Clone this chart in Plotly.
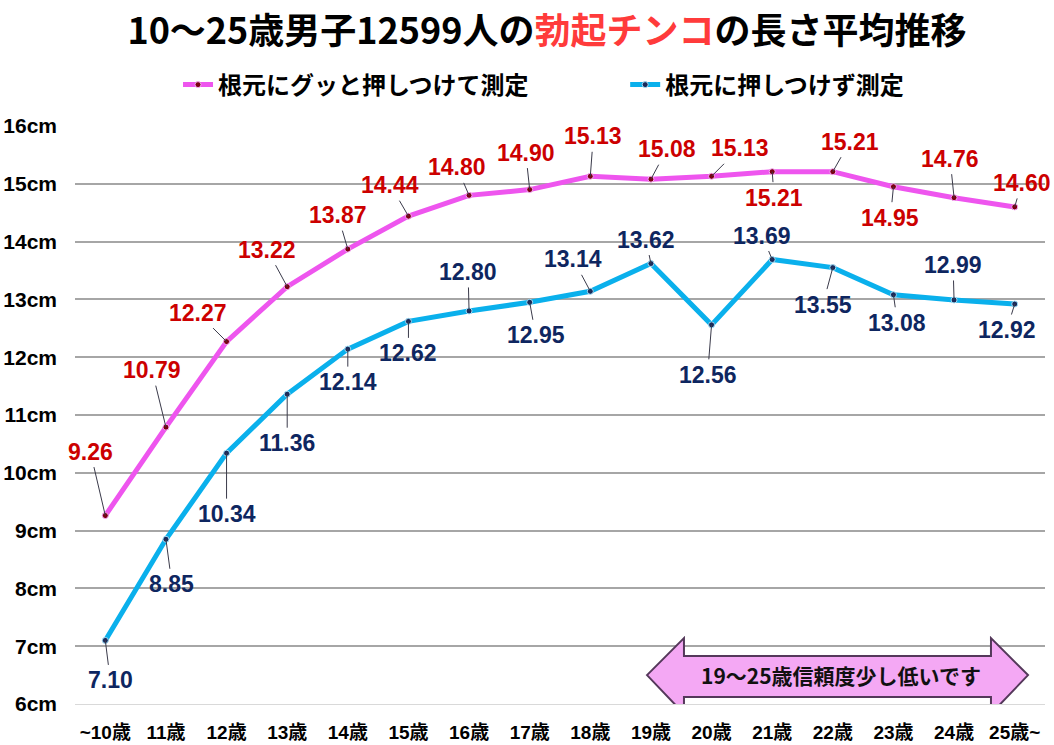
import plotly.graph_objects as go

# ---------------- data ----------------
categories = ["~10歳", "11歳", "12歳", "13歳", "14歳", "15歳", "16歳", "17歳",
              "18歳", "19歳", "20歳", "21歳", "22歳", "23歳", "24歳", "25歳~"]
pressed = [9.26, 10.79, 12.27, 13.22, 13.87, 14.44, 14.80, 14.90,
           15.13, 15.08, 15.13, 15.21, 15.21, 14.95, 14.76, 14.60]
not_pressed = [7.10, 8.85, 10.34, 11.36, 12.14, 12.62, 12.80, 12.95,
               13.14, 13.62, 12.56, 13.69, 13.55, 13.08, 12.99, 12.92]
y_tick_values = [6, 7, 8, 9, 10, 11, 12, 13, 14, 15, 16]
y_tick_labels = [f"{v}cm" for v in y_tick_values]
series_names = ["根元にグッと押しつけて測定", "根元に押しつけず測定"]
title_black_1 = "10～25歳男子12599人の"
title_red = "勃起チンコ"
title_black_2 = "の長さ平均推移"
note_text = "19～25歳信頼度少し低いです"

# label offsets (pixels, text centre relative to point)
pressed_offsets = [(-15, -64), (-14, -57), (-29, -29), (-20, -37), (-10, -34), (-18, -31),
                   (-12, -28), (-4, -37), (3, -40), (16, -30), (28, -28), (2, 26),
                   (17, -30), (-3, 31), (-4, -39), (7, -24)]
not_pressed_offsets = [(5, 40), (6, 45), (0, 61), (0, 49), (0, 33), (0, 32),
                       (-1, -39), (6, 33), (-17, -32), (-5, -24), (-4, 50), (-10, -24),
                       (-10, 37), (4, 28), (-1, -35), (-8, 26)]

# ---------------- styles ----------------
W, H = 1054, 745
PINK = "#EE55EE"
BLUE = "#0AB0EC"
RED_LABEL = "#CC0000"
NAVY_LABEL = "#0E2660"
CJK = "Noto Sans CJK JP"
LAT = "Liberation Sans, Arial, Noto Sans CJK JP"

fig = go.Figure()
fig.add_trace(go.Scatter(
    x=categories, y=pressed, name=series_names[0], mode="lines+markers",
    line=dict(color=PINK, width=5),
    marker=dict(size=6, color="#7A0010", line=dict(color="#F7A8F7", width=1)),
    legend="legend", cliponaxis=False,
))
fig.add_trace(go.Scatter(
    x=categories, y=not_pressed, name=series_names[1], mode="lines+markers",
    line=dict(color=BLUE, width=5),
    marker=dict(size=6, color="#1A2A5A", line=dict(color="#9EDDF7", width=1)),
    legend="legend2", cliponaxis=False,
))

annotations = []
for vals, offs, col in [(pressed, pressed_offsets, RED_LABEL),
                        (not_pressed, not_pressed_offsets, NAVY_LABEL)]:
    for cat, v, (dx, dy) in zip(categories, vals, offs):
        annotations.append(dict(
            x=cat, y=v, xref="x", yref="y", text=f"{v:.2f}",
            showarrow=True, ax=dx, ay=dy, axref="pixel", ayref="pixel",
            arrowhead=0, arrowwidth=1, arrowcolor="#3A3A4A", standoff=0,
            borderpad=2,
            font=dict(family=LAT, size=23, color=col, weight="bold"),
        ))

# double-headed note arrow (paper x, data y)
xl_tip, xl_base, xr_base, xr_tip = 0.5897, 0.6278, 0.9443, 0.9825
y_mid, y_head_top, y_shaft_top, y_shaft_bot, y_head_bot = 6.50, 7.14, 6.83, 6.12, 5.83
path = (f"M{xl_tip},{y_mid} L{xl_base},{y_head_top} L{xl_base},{y_shaft_top} "
        f"L{xr_base},{y_shaft_top} L{xr_base},{y_head_top} L{xr_tip},{y_mid} "
        f"L{xr_base},{y_head_bot} L{xr_base},{y_shaft_bot} L{xl_base},{y_shaft_bot} "
        f"L{xl_base},{y_head_bot} Z")
shapes = [dict(type="path", xref="paper", yref="y", path=path,
               fillcolor="#F4A8F4", line=dict(color="#54385A", width=2), layer="above")]

# note arrow text
annotations.append(dict(
    x=0.7897, y=6.50, xref="paper", yref="y", text=note_text, showarrow=False,
    xanchor="center", yanchor="middle",
    font=dict(family=CJK, size=21, color="#111111", weight="bold"),
))

title_html = (f"{title_black_1}<span style='color:#FF3B3B'>{title_red}</span>{title_black_2}")

legend_font = dict(family=CJK, size=24, color="#000000", weight="bold")
fig.update_layout(
    width=W, height=H,
    margin=dict(l=75, r=9, t=126, b=41),
    paper_bgcolor="white", plot_bgcolor="white",
    title=dict(text=title_html, xref="container", yref="container",
               x=547 / W, xanchor="center", y=1 - 31 / H, yanchor="middle",
               font=dict(family=CJK, size=36, color="#000000", weight="bold")),
    showlegend=True,
    legend=dict(xref="paper", yref="paper", x=0.1062, y=1.0709,
                xanchor="left", yanchor="middle", bgcolor="rgba(0,0,0,0)",
                orientation="h", font=legend_font),
    legend2=dict(xref="paper", yref="paper", x=0.5672, y=1.0709,
                 xanchor="left", yanchor="middle", bgcolor="rgba(0,0,0,0)",
                 orientation="h", font=legend_font),
    xaxis=dict(type="category", range=[-0.5, 15.5], showgrid=False,
               showline=True, linecolor="#D9D9D9", linewidth=1, ticks="",
               tickfont=dict(family=LAT, size=19, color="#000000", weight="bold"),
               ticklabelstandoff=11, fixedrange=True, automargin=False),
    yaxis=dict(range=[6, 16], tickmode="array", tickvals=y_tick_values,
               ticktext=y_tick_labels, showgrid=True, gridcolor="#A6A6A6",
               gridwidth=2, zeroline=False, showline=False, ticks="",
               tickfont=dict(family=LAT, size=21, color="#000000", weight="bold"),
               ticklabelstandoff=17, fixedrange=True, automargin=False),
    annotations=annotations,
    shapes=shapes,
)

fig.write_html("out.html")
